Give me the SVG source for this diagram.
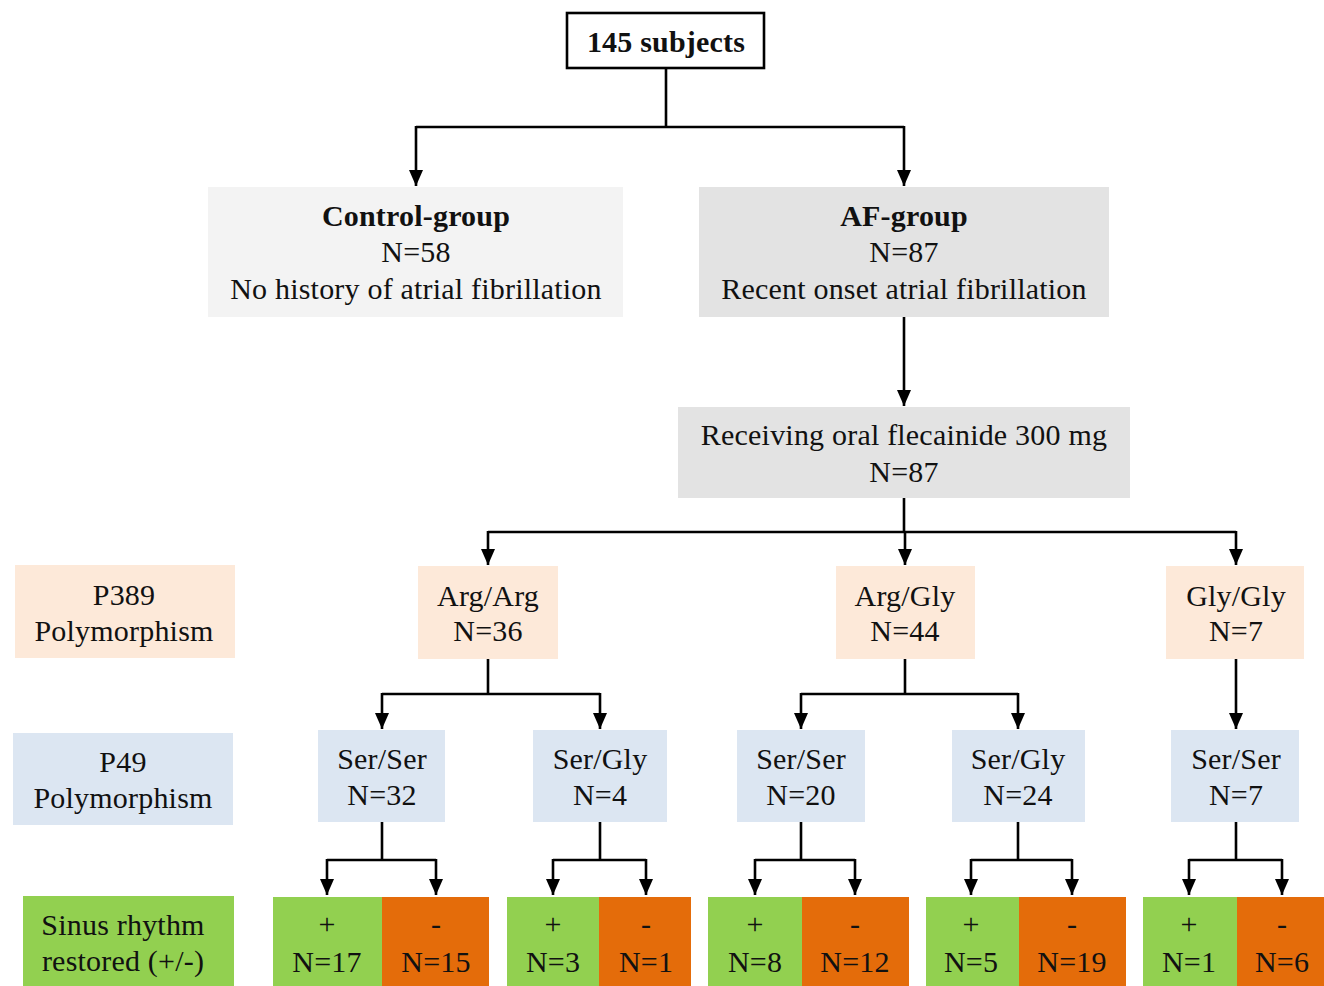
<svg xmlns="http://www.w3.org/2000/svg" width="1324" height="986" viewBox="0 0 1324 986">
<style>
text{font-family:"Liberation Serif","Times New Roman",serif;font-size:30px;letter-spacing:0.2px;fill:#111;text-anchor:middle}
.b{font-weight:bold}
.ln{fill:none;stroke:#000;stroke-width:2.6}
.ar{marker-end:url(#ah)}
.g1{fill:#f3f3f3}.g2{fill:#e3e3e3}.pe{fill:#fde9d9}.bl{fill:#dce6f2}.gr{fill:#92d050}.or{fill:#e46c0a}
</style>
<defs>
<marker id="ah" viewBox="0 0 16 14" refX="16" refY="7" markerWidth="16" markerHeight="14" markerUnits="userSpaceOnUse" orient="auto"><path d="M0,0 L16,7 L0,14 z" fill="#000"/></marker>
</defs>
<rect width="1324" height="986" fill="#fff"/>
<g id="connectors">
<path class="ln" d="M666,68 V127 M416,127 H904"/>
<path class="ln ar" d="M416,126 V186"/>
<path class="ln ar" d="M904,126 V186"/>
<path class="ln ar" d="M904,317 V406"/>
<path class="ln" d="M904,498 V532 M488,532 H1236"/>
<path class="ln ar" d="M488,531 V565"/>
<path class="ln ar" d="M905,531 V565"/>
<path class="ln ar" d="M1236,531 V565"/>
<path class="ln" d="M488,659 V694 M382,694 H600 M905,659 V694 M801,694 H1018"/>
<path class="ln ar" d="M382,693 V729"/>
<path class="ln ar" d="M600,693 V729"/>
<path class="ln ar" d="M801,693 V729"/>
<path class="ln ar" d="M1018,693 V729"/>
<path class="ln ar" d="M1236,659 V729"/>
<path class="ln" d="M382,822 V860 M327,860 H436 M600,822 V860 M553,860 H646 M801,822 V860 M755,860 H855 M1018,822 V860 M971,860 H1072 M1236,822 V860 M1189,860 H1282"/>
<path class="ln ar" d="M327,859 V895"/><path class="ln ar" d="M436,859 V895"/>
<path class="ln ar" d="M553,859 V895"/><path class="ln ar" d="M646,859 V895"/>
<path class="ln ar" d="M755,859 V895"/><path class="ln ar" d="M855,859 V895"/>
<path class="ln ar" d="M971,859 V895"/><path class="ln ar" d="M1072,859 V895"/>
<path class="ln ar" d="M1189,859 V895"/><path class="ln ar" d="M1282,859 V895"/>
</g>
<g id="n-total"><rect x="567" y="13" width="197" height="55" fill="#fff" stroke="#000" stroke-width="2.6"/><text class="b" x="666" y="52">145 subjects</text></g>
<g id="n-control"><rect class="g1" x="208" y="187" width="415" height="130"/><text class="b" x="416" y="226">Control-group</text><text x="416" y="262">N=58</text><text x="416" y="299">No history of atrial fibrillation</text></g>
<g id="n-af"><rect class="g2" x="699" y="187" width="410" height="130"/><text class="b" x="904" y="226">AF-group</text><text x="904" y="262">N=87</text><text x="904" y="299">Recent onset atrial fibrillation</text></g>
<g id="n-flec"><rect class="g2" x="678" y="407" width="452" height="91"/><text x="904" y="445">Receiving oral flecainide 300 mg</text><text x="904" y="482">N=87</text></g>
<g id="n-p389"><rect class="pe" x="15" y="565" width="220" height="93"/><text x="124" y="605">P389</text><text x="124" y="641">Polymorphism</text></g>
<g id="n-argarg"><rect class="pe" x="418" y="566" width="140" height="93"/><text x="488" y="606">Arg/Arg</text><text x="488" y="641">N=36</text></g>
<g id="n-arggly"><rect class="pe" x="836" y="566" width="139" height="93"/><text x="905" y="606">Arg/Gly</text><text x="905" y="641">N=44</text></g>
<g id="n-glygly"><rect class="pe" x="1166" y="566" width="138" height="93"/><text x="1236" y="606">Gly/Gly</text><text x="1236" y="641">N=7</text></g>
<g id="n-p49"><rect class="bl" x="13" y="733" width="220" height="92"/><text x="123" y="772">P49</text><text x="123" y="808">Polymorphism</text></g>
<g id="n-ss1"><rect class="bl" x="318" y="730" width="127" height="92"/><text x="382" y="769">Ser/Ser</text><text x="382" y="805">N=32</text></g>
<g id="n-sg1"><rect class="bl" x="533" y="730" width="134" height="92"/><text x="600" y="769">Ser/Gly</text><text x="600" y="805">N=4</text></g>
<g id="n-ss2"><rect class="bl" x="737" y="730" width="128" height="92"/><text x="801" y="769">Ser/Ser</text><text x="801" y="805">N=20</text></g>
<g id="n-sg2"><rect class="bl" x="952" y="730" width="133" height="92"/><text x="1018" y="769">Ser/Gly</text><text x="1018" y="805">N=24</text></g>
<g id="n-ss3"><rect class="bl" x="1171" y="730" width="128" height="92"/><text x="1236" y="769">Ser/Ser</text><text x="1236" y="805">N=7</text></g>
<g id="n-sinus"><rect class="gr" x="23" y="896" width="211" height="90"/><text x="123" y="935">Sinus rhythm</text><text x="123" y="971">restored (+/-)</text></g>
<g id="n-r1"><rect class="gr" x="273" y="897" width="109" height="89"/><rect class="or" x="382" y="897" width="107" height="89"/><text x="327" y="934">+</text><text x="327" y="972">N=17</text><text x="436" y="934">-</text><text x="436" y="972">N=15</text></g>
<g id="n-r2"><rect class="gr" x="507" y="897" width="92" height="89"/><rect class="or" x="599" y="897" width="92" height="89"/><text x="553" y="934">+</text><text x="553" y="972">N=3</text><text x="646" y="934">-</text><text x="646" y="972">N=1</text></g>
<g id="n-r3"><rect class="gr" x="708" y="897" width="94" height="89"/><rect class="or" x="802" y="897" width="107" height="89"/><text x="755" y="934">+</text><text x="755" y="972">N=8</text><text x="855" y="934">-</text><text x="855" y="972">N=12</text></g>
<g id="n-r4"><rect class="gr" x="926" y="897" width="93" height="89"/><rect class="or" x="1019" y="897" width="107" height="89"/><text x="971" y="934">+</text><text x="971" y="972">N=5</text><text x="1072" y="934">-</text><text x="1072" y="972">N=19</text></g>
<g id="n-r5"><rect class="gr" x="1143" y="897" width="94" height="89"/><rect class="or" x="1237" y="897" width="87" height="89"/><text x="1189" y="934">+</text><text x="1189" y="972">N=1</text><text x="1282" y="934">-</text><text x="1282" y="972">N=6</text></g>
</svg>
